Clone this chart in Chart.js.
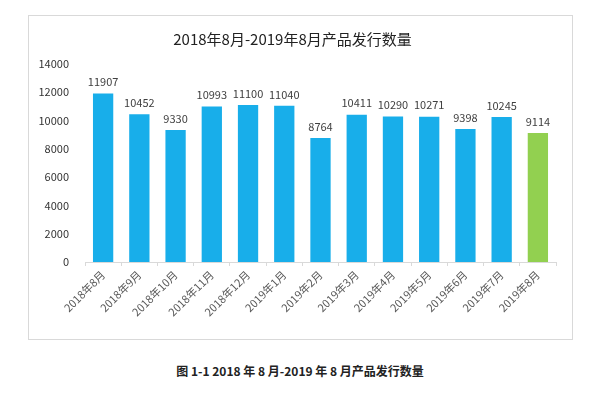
<!DOCTYPE html>
<html>
<head>
<meta charset="utf-8">
<script src="https://cdn.jsdelivr.net/npm/chart.js@4"></script>
<style>
body { margin: 0; background: #fff; font-family: "Noto Sans CJK SC", sans-serif; }
.box { position: absolute; left: 28px; top: 15px; width: 545px; height: 325px; border: 1px solid #d9d9d9; box-sizing: border-box; }
.caption { position: absolute; left: 0; top: 362px; width: 600px; text-align: center; font-size: 12px; font-weight: bold; color: #222; }
</style>
</head>
<body>
<div class="box"><canvas id="myChart" width="543" height="323"></canvas></div>
<div class="caption">图 1-1 2018 年 8 月-2019 年 8 月产品发行数量</div>
<script>
var months = ['2018年8月', '2018年9月', '2018年10月', '2018年11月', '2018年12月', '2019年1月', '2019年2月',
    '2019年3月', '2019年4月', '2019年5月', '2019年6月', '2019年7月', '2019年8月'];
var counts = [11907, 10452, 9330, 10993, 11100, 11040, 8764, 10411, 10290, 10271, 9398, 10245, 9114];
var yTicks = [0, 2000, 4000, 6000, 8000, 10000, 12000, 14000];

var colors = [];
for (var i = 0; i < counts.length; i++) {
    colors.push(i == counts.length - 1 ? '#92d050' : '#18aeea');
}

// draw the number above each bar
var barLabels = {
    id: 'barLabels',
    afterDatasetsDraw: function (chart) {
        var ctx = chart.ctx;
        var meta = chart.getDatasetMeta(0);
        ctx.save();
        ctx.font = '11px "Noto Sans CJK SC"';
        ctx.fillStyle = '#404040';
        ctx.textAlign = 'center';
        ctx.textBaseline = 'bottom';
        meta.data.forEach(function (bar, i) {
            ctx.fillText(counts[i], bar.x, bar.y - 6);
        });
        ctx.restore();
    }
};

const ctx = document.getElementById('myChart').getContext('2d');
const myChart = new Chart(ctx, {
    type: 'bar',
    data: {
        labels: months,
        datasets: [{
            data: counts,
            backgroundColor: colors,
            categoryPercentage: 1,
            barPercentage: 0.56
        }]
    },
    options: {
        responsive: false,
        animation: false,
        layout: { padding: { left: 0, right: 16, top: 0, bottom: 0 } },
        plugins: {
            legend: { display: false },
            tooltip: { enabled: false },
            title: {
                display: true,
                text: '2018年8月-2019年8月产品发行数量',
                color: '#222',
                font: { size: 15, family: 'Noto Sans CJK SC', weight: 'normal' },
                padding: { top: 14, bottom: 16 }
            }
        },
        scales: {
            x: {
                grid: { display: true, offset: true, drawOnChartArea: false, tickLength: 4, color: '#d9d9d9' },
                border: { display: true, color: '#d9d9d9' },
                ticks: {
                    color: '#595959',
                    font: { size: 11, family: 'Noto Sans CJK SC' },
                    maxRotation: 45, minRotation: 45, padding: 2
                },
                afterFit: function (scale) { scale.height = 77; }
            },
            y: {
                min: 0, max: 14000,
                grid: { display: false },
                border: { display: false },
                afterBuildTicks: function (scale) {
                    scale.ticks = yTicks.map(function (v) { return { value: v }; });
                },
                ticks: {
                    color: '#333',
                    font: { size: 11, family: 'Noto Sans CJK SC' },
                    padding: 8,
                    callback: function (value) { return String(value); }
                },
                afterFit: function (scale) { scale.width = 56; }
            }
        }
    },
    plugins: [barLabels]
});
</script>
</body>
</html>
